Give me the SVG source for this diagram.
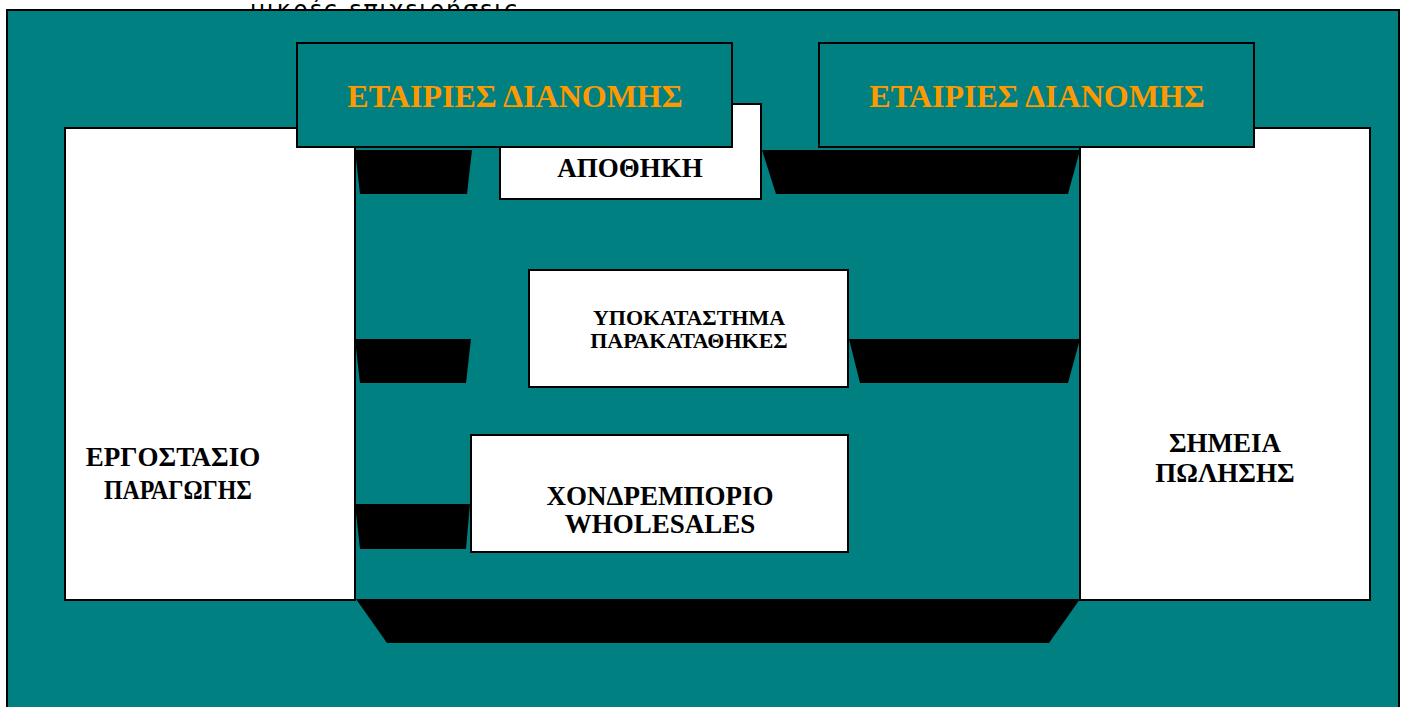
<svg xmlns="http://www.w3.org/2000/svg" width="1404" height="707" viewBox="0 0 1404 707">
<style>
.bg{fill:#008080;stroke:#000;stroke-width:2}
.wb{fill:#fff;stroke:#000;stroke-width:2}
.tb{fill:#008080;stroke:#000;stroke-width:2}
.tr{fill:#000;stroke:none}
.t{font-family:"Liberation Serif","Times New Roman",serif;font-weight:bold;fill:#000;text-anchor:middle;font-size:27px}
.o{font-family:"Liberation Serif","Times New Roman",serif;font-weight:bold;fill:#FF9900;text-anchor:middle;font-size:32px}
.s{font-family:"DejaVu Sans","Noto Sans",sans-serif;fill:#000;font-size:24px}
</style>
<text class="s" x="250" y="18" textLength="268">μικρές επιχειρήσεις</text>
<rect class="bg" x="7" y="10" width="1392" height="710"/>
<g id="factory">
<rect class="wb" x="65" y="128" width="290" height="472"/>
<text class="t" x="173" y="466">ΕΡΓΟΣΤΑΣΙΟ</text>
<text class="t" x="178" y="499" textLength="148" lengthAdjust="spacingAndGlyphs">ΠΑΡΑΓΩΓΗΣ</text>
</g>
<g id="points">
<rect class="wb" x="1080" y="128" width="290" height="472"/>
<text class="t" x="1225" y="452">ΣΗΜΕΙΑ</text>
<text class="t" x="1225" y="482">ΠΩΛΗΣΗΣ</text>
</g>
<g id="connectors">
<polygon class="tr" points="355,150 472,150 467,194 360,194"/>
<polygon class="tr" points="762,150 1080,150 1068,194 776,194"/>
<polygon class="tr" points="355,339 471,339 466,383 360,383"/>
<polygon class="tr" points="849,339 1080,339 1068,383 860,383"/>
<polygon class="tr" points="355,504 470,504 466,549 360,549"/>
<polygon class="tr" points="356,599 1080,599 1049,643 387,643"/>
</g>
<g id="warehouse">
<rect class="wb" x="500" y="104" width="261" height="95"/>
<text class="t" x="630" y="177">ΑΠΟΘΗΚΗ</text>
</g>
<g id="distrib1">
<rect class="tb" x="297" y="43" width="435" height="104"/>
<text class="o" x="515" y="107">ΕΤΑΙΡΙΕΣ ΔΙΑΝΟΜΗΣ</text>
</g>
<g id="distrib2">
<rect class="tb" x="819" y="43" width="435" height="104"/>
<text class="o" x="1037" y="107">ΕΤΑΙΡΙΕΣ ΔΙΑΝΟΜΗΣ</text>
</g>
<g id="branch">
<rect class="wb" x="529" y="270" width="319" height="117"/>
<text class="t" style="font-size:22px" x="689" y="325">ΥΠΟΚΑΤΑΣΤΗΜΑ</text>
<text class="t" style="font-size:22px" x="689" y="348">ΠΑΡΑΚΑΤΑΘΗΚΕΣ</text>
</g>
<g id="wholesale">
<rect class="wb" x="471" y="435" width="377" height="117"/>
<text class="t" x="660" y="505">ΧΟΝΔΡΕΜΠΟΡΙΟ</text>
<text class="t" x="660" y="533">WHOLESALES</text>
</g>
</svg>
